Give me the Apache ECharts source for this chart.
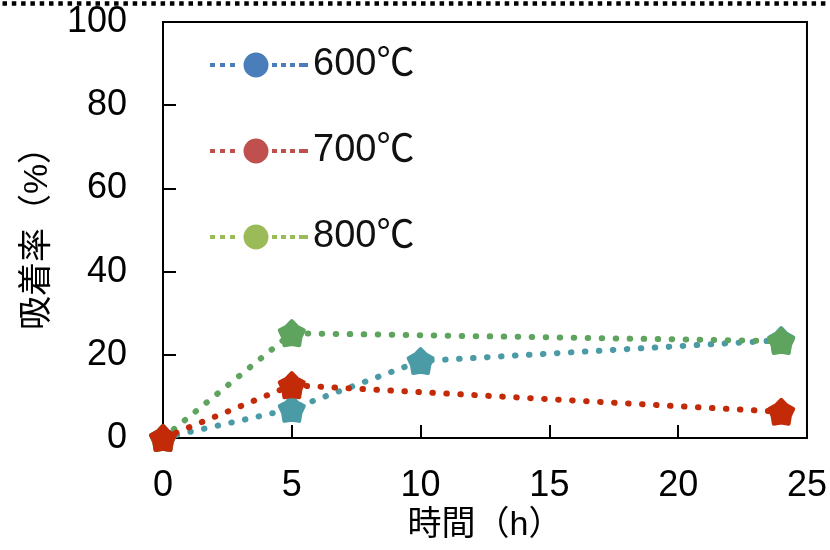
<!DOCTYPE html>
<html>
<head>
<meta charset="utf-8">
<script src="https://cdn.jsdelivr.net/npm/echarts@6/dist/echarts.min.js"></script>
<style>html,body{margin:0;padding:0;background:#fff}#c{width:830px;height:550px}</style>
</head>
<body>
<div id="c"></div>
<script>
const seriesNames = ['600℃', '700℃', '800℃'];
const hours600 = [0, 5, 10, 24];
const values600 = [0, 7.0, 18.5, 23.5];
const hours700 = [0, 5, 24];
const values700 = [0, 12.7, 6.3];
const hours800 = [0, 5, 24];
const values800 = [0, 25.2, 23.3];
const xTicks = [0, 5, 10, 15, 20, 25];
const yTicks = [0, 20, 40, 60, 80, 100];

const FONT = '"Liberation Sans", Arial, "Noto Sans CJK JP", sans-serif';
const lineColors = ['#4a9ba6', '#c22a08', '#5ea45e'];
const legendColors = ['#4a7ebb', '#c0504d', '#9bbb59'];

const star = 'path://M0 -10 L4.23 -5.82 L9.511 -3.09 L6.85 2.22 L5.878 8.09 L0 7.2 L-5.878 8.09 L-6.85 2.22 L-9.511 -3.09 L-4.23 -5.82 Z';
const legendIcon = 'path://M0 10.5 L5 10.5 L5 14.5 L0 14.5 Z M10 10.5 L15 10.5 L15 14.5 L10 14.5 Z M20 10.5 L25 10.5 L25 14.5 L20 14.5 Z ' +
  'M33.5 12.5 A12.5 12.5 0 1 0 58.5 12.5 A12.5 12.5 0 1 0 33.5 12.5 Z ' +
  'M62 10.5 L67 10.5 L67 14.5 L62 14.5 Z M71 10.5 L76 10.5 L76 14.5 L71 14.5 Z M80 10.5 L85 10.5 L85 14.5 L80 14.5 Z M89 10.5 L94 10.5 L94 14.5 L89 14.5 Z M93 10.5 L98 10.5 L98 14.5 L93 14.5 Z';

function pairs(xs, ys) { return xs.map((x, i) => [x, ys[i]]); }

function mkSeries(name, data, color, z) {
  return {
    name: name, type: 'line', data: data, z: z,
    symbol: star, symbolSize: 24,
    itemStyle: { color: color, borderColor: color, borderWidth: 4, borderJoin: 'round' },
    lineStyle: { color: color, width: 6, type: [0.5, 13.5], cap: 'round' },
    emphasis: { disabled: true },
    animation: false
  };
}

const chart = echarts.init(document.getElementById('c'));
chart.setOption({
  backgroundColor: '#fff',
  animation: false,
  grid: { left: 163, right: 23, top: 22, bottom: 112, show: true, borderColor: '#000', borderWidth: 2, backgroundColor: 'transparent' },
  legend: {
    orient: 'vertical', left: 205, top: 41,
    itemWidth: 98, itemHeight: 25, itemGap: 48,
    selectedMode: false,
    textStyle: { fontFamily: FONT, fontSize: 38, color: '#111' },
    data: seriesNames.map((n, i) => ({ name: n, icon: legendIcon, itemStyle: { color: legendColors[i], borderWidth: 0 } }))
  },
  xAxis: {
    type: 'value', min: xTicks[0], max: xTicks[xTicks.length - 1], interval: 5,
    name: '時間（h）', nameLocation: 'middle', nameGap: 64,
    nameTextStyle: { fontFamily: FONT, fontSize: 34, color: '#000' },
    axisLine: { show: true, lineStyle: { color: '#000', width: 2 } },
    axisTick: { show: true, inside: true, length: 13, lineStyle: { color: '#000', width: 2 } },
    axisLabel: { fontFamily: FONT, fontSize: 36, color: '#000', margin: 30 },
    splitLine: { show: false }
  },
  yAxis: {
    type: 'value', min: yTicks[0], max: yTicks[yTicks.length - 1], interval: 20,
    name: '吸着率（%）', nameLocation: 'middle', nameGap: 108,
    nameTextStyle: { fontFamily: FONT, fontSize: 34, color: '#000' },
    axisLine: { show: true, lineStyle: { color: '#000', width: 2 } },
    axisTick: { show: true, inside: true, length: 13, lineStyle: { color: '#000', width: 2 } },
    axisLabel: { fontFamily: FONT, fontSize: 36, color: '#000', margin: 36 },
    splitLine: { show: false }
  },
  graphic: [{
    type: 'line', left: 0, top: 1,
    shape: { x1: 0, y1: 0, x2: 830, y2: 0 },
    style: { stroke: '#000', lineWidth: 4.5, lineDash: [4.5, 4.8] }
  }],
  series: [
    mkSeries(seriesNames[0], pairs(hours600, values600), lineColors[0], 2),
    mkSeries(seriesNames[2], pairs(hours800, values800), lineColors[2], 3),
    mkSeries(seriesNames[1], pairs(hours700, values700), lineColors[1], 4)
  ]
});
</script>
</body>
</html>
